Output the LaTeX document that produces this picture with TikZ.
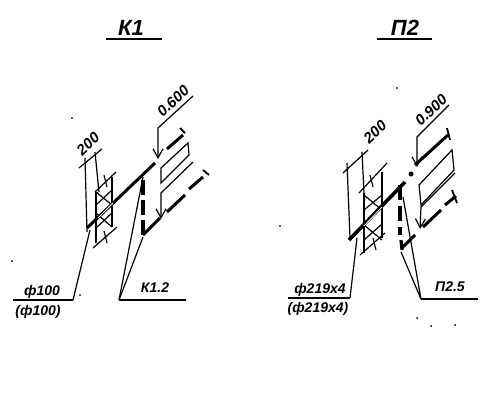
\documentclass[tikz,border=0pt]{standalone}
\usepackage{fontspec}
\setmainfont{Liberation Sans}
\usetikzlibrary{arrows.meta}

\tikzset{
  pipe/.style={line width=3pt},
  pipedash/.style={line width=3.2pt},
  thinline/.style={line width=1.2pt},
  shelf/.style={line width=1.8pt},
  barb/.style={-{Straight Barb[length=9pt,width=10pt]}},
  lbl/.style={font=\fontsize{14}{14}\selectfont\bfseries\itshape, inner sep=0pt},
  levellbl/.style={font=\fontsize{15}{15}\selectfont\bfseries\itshape, inner sep=0pt, rotate=43},
  titlelbl/.style={font=\fontsize{22}{22}\selectfont\bfseries\itshape, inner sep=0pt},
}

\begin{document}
\begin{tikzpicture}[x=1pt, y=-1pt]
  \useasboundingbox (0,0) rectangle (482,407);

  % titles
  \node[titlelbl] (titleK) at (131,28) {К1};
  \draw[shelf] (106,39) -- (162,39);
  \node[titlelbl] (titleP) at (405,28) {П2};
  \draw[shelf] (377,39) -- (432,39);

  % left detail
  \draw[thinline] (85,158) -- (87,232);
  \draw[thinline] (95,152) -- (99,192);
  \draw[thinline] (79,168) -- (102,149);
  \node[levellbl] (dimK) at (88,144) {200};
  \draw[thinline] (96,192) -- (96,243);
  \draw[thinline] (112,177) -- (112,227);
  \draw[thinline] (95,192) -- (116,172);
  \draw[thinline] (93,248) -- (117,227);
  \draw[thinline] (96,192) -- (112,205) (96,205) -- (112,190);
  \draw[thinline] (96,213) -- (112,227) (96,228) -- (112,213);
  \draw[thinline] (104,175) -- (107,187) (104,231) -- (107,243);
  \draw[pipe] (87,228) -- (155,163);
  \draw[white, line width=0.8pt] (98,218) -- (113,203);
  \draw[pipedash, dash pattern=on 15pt off 5pt] (143,180) -- (143,235);
  \draw[pipe] (143,235) -- (160,218);
  \draw[pipe] (167,212) -- (185,195);
  \draw[pipe] (189,189) -- (203,177);
  \draw[shelf] (203,170) -- (209,175);
  \draw[pipe] (167,149) -- (183,135);
  \draw[shelf] (180,128) -- (185,133);
  \draw[thinline, barb] (193,96) -- (158,128) -- (158,159);
  \node[levellbl] (levelK) at (173,101) {0.600};
  \draw[thinline] (161,168) -- (188,143) -- (189,155) -- (161,183) -- cycle;
  \draw[thinline, barb] (193,162) -- (161,193) -- (161,219);
  \node[lbl] (pipeK) at (42,292) {ф100};
  \node[lbl] (pipeKb) at (38,312) {(ф100)};
  \coordinate (shelfKl) at (73,300);
  \draw[shelf] (13,300) -- (shelfKl);
  \draw[thinline] (shelfKl) -- (90,230);
  \node[lbl] (markK) at (155,288) {К1.2};
  \coordinate (shelfKr) at (119,300);
  \draw[shelf] (shelfKr) -- (186,300);
  \draw[thinline] (shelfKr) -- (143,177);
  \draw[thinline] (shelfKr) -- (143,237);

  % right detail
  \draw[thinline] (347,163) -- (350,238);
  \draw[thinline] (362,152) -- (364,193);
  \draw[thinline] (343,173) -- (368,150);
  \node[levellbl] (dimP) at (375,132) {200};
  \draw[thinline] (364,193) -- (364,253);
  \draw[thinline] (382,172) -- (382,238);
  \draw[thinline] (359,193) -- (387,163);
  \draw[thinline] (360,255) -- (385,233);
  \draw[thinline] (364,195) -- (382,210) (364,210) -- (382,195);
  \draw[thinline] (364,225) -- (382,240) (364,240) -- (382,224);
  \draw[thinline] (370,175) -- (373,187) (373,238) -- (376,250);
  \draw[pipe, line width=3.6pt] (349,240) -- (405,182);
  \draw[white, line width=0.8pt] (364,226) -- (382,207);
  \draw[pipedash, dash pattern=on 15pt off 6pt] (400,185) -- (400,235);
  \draw[pipedash] (401,240) -- (402,250);
  \draw[pipe] (402,248) -- (415,235);
  \draw[pipe] (423,227) -- (441,210);
  \draw[pipe] (445,205) -- (456,196);
  \draw[shelf] (452,190) -- (457,203);
  \draw[pipe] (415,165) -- (448,135);
  \draw[shelf] (447,128) -- (450,140);
  \draw[thinline, barb] (449,105) -- (417,137) -- (417,167);
  \node[levellbl] (levelP) at (431,110) {0.900};
  \fill (411,174) circle (2.5pt);
  \draw[thinline] (419,185) -- (452,150) -- (454,170) -- (421,205) -- cycle;
  \draw[thinline, barb] (455,173) -- (421,207) -- (420,229);
  \node[lbl] (pipeP) at (320,290) {ф219х4};
  \node[lbl] (pipePb) at (318,309) {(ф219х4)};
  \coordinate (shelfPl) at (350,298);
  \draw[shelf] (288,298) -- (shelfPl);
  \draw[thinline] (shelfPl) -- (357,238);
  \node[lbl] (markP) at (450,287) {П2.5};
  \coordinate (shelfPr) at (421,299);
  \draw[shelf] (shelfPr) -- (478,299);
  \draw[thinline] (shelfPr) -- (403,197);
  \draw[thinline] (shelfPr) -- (401,252);

  % specks
  \foreach \x/\y in {72/118, 12/261, 80/295, 280/226, 397/88, 417/318, 431/326, 455/325}
    \fill (\x,\y) circle (1pt);
\end{tikzpicture}
\end{document}
